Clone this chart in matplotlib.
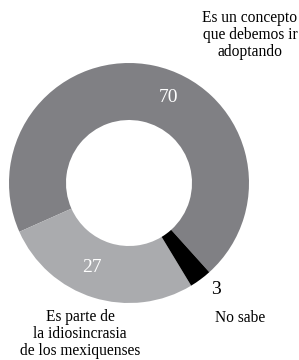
import matplotlib
matplotlib.use("Agg")
import matplotlib.pyplot as plt

categories = ["Es un concepto\nque debemos ir\nadoptando", "Es parte de\nla idiosincrasia\nde los mexiquenses", "No sabe"]
values = [70, 27, 3]
colors = ["#808084", "#aaabae", "#000000"]

plt.rcParams['font.family'] = ['Liberation Serif', 'DejaVu Serif']

fig = plt.figure(figsize=(2.99, 3.6), dpi=100)
ax = fig.add_axes([0, 0, 1, 1])

cx, cy = 129, 360 - 183
R = 120
wedges, _ = ax.pie(values, colors=colors, startangle=-48, counterclock=True,
                   radius=R, center=(cx, cy), frame=True,
                   wedgeprops=dict(width=57, linewidth=0))
ax.set_xlim(0, 299)
ax.set_ylim(0, 360)
ax.set_aspect('auto')
ax.axis('off')

# value labels
ax.text(168, 360 - 98, str(values[0]), color='white', fontsize=14, ha='center', va='center')
ax.text(92, 360 - 268, str(values[1]), color='white', fontsize=14, ha='center', va='center')
ax.text(216, 360 - 290, str(values[2]), color='black', fontsize=14, ha='center', va='center')

# category labels
ax.text(250, 360 - 35, categories[0], fontsize=11.2, ha='center', va='center', linespacing=1.05)
ax.text(80, 360 - 334, categories[1], fontsize=11.2, ha='center', va='center', linespacing=1.05)
ax.text(240, 360 - 318, categories[2], fontsize=11.2, ha='center', va='center')

fig.savefig("out.png", dpi=100)
